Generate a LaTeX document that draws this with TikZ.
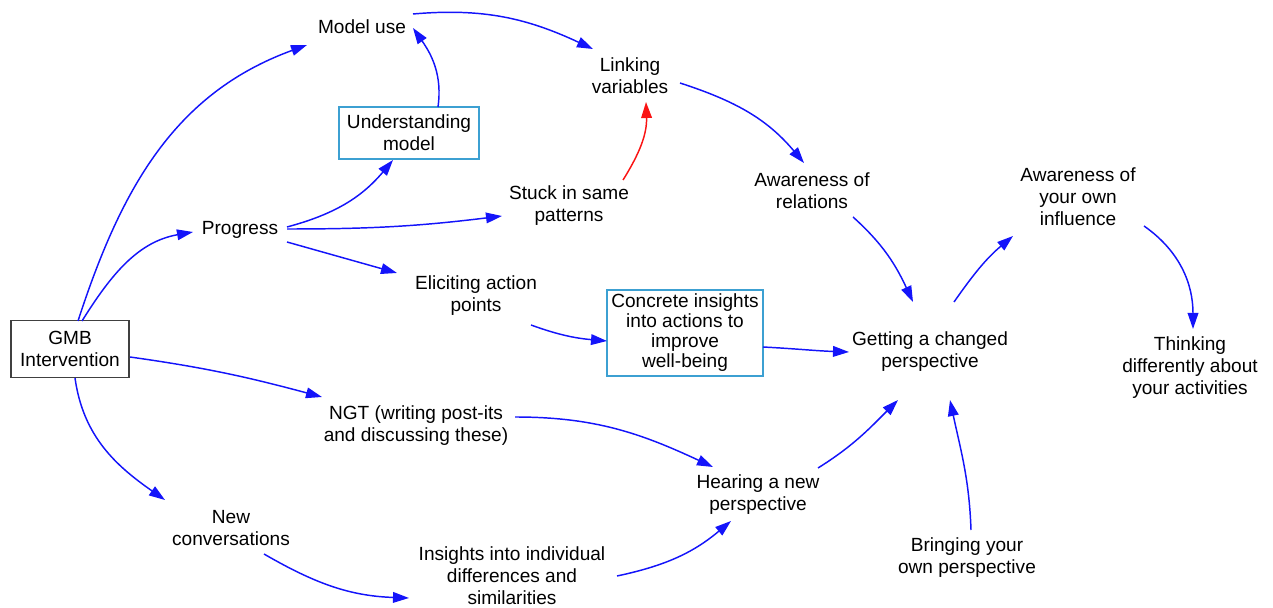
\documentclass[tikz,border=0pt]{standalone}
\usepackage{fontspec}
\setmainfont{Liberation Sans}
\usetikzlibrary{arrows.meta}
\definecolor{arrblue}{RGB}{20,20,250}
\definecolor{arrred}{RGB}{250,20,20}
\definecolor{boxblue}{RGB}{60,160,210}
\begin{document}
\begin{tikzpicture}[x=0.75pt,y=0.75pt,
  lbl/.style={align=center,font=\fontsize{14.3}{16.5}\selectfont,inner sep=0pt},
  bluebox/.style={lbl,draw=boxblue,line width=0.9pt},
  graybox/.style={lbl,draw=black!75,line width=1.1pt},
  arr/.style={draw=arrblue,line width=1.1pt,-{Triangle[length=12pt,width=8pt]}},
  redarr/.style={arr,draw=arrred,-{Triangle[length=12pt,width=8pt,fill=arrred]}}]
\useasboundingbox (0,0) rectangle (1273,607);
% nodes
\node[lbl] (mu) at (362,580) {Model use};
\node[lbl] (lv) at (630,531) {Linking\\variables};
\node[bluebox,minimum width=105pt,minimum height=39pt] (um) at (409,474) {Understanding\\model};
\node[lbl] (st) at (569,401) {Stuck in same\\patterns};
\node[lbl] (pr) at (240,377) {Progress};
\node[lbl] (ar) at (812,416) {Awareness of\\relations};
\node[lbl] (ao) at (1078,410) {Awareness of\\your own\\influence};
\node[lbl] (ea) at (476,311) {Eliciting action\\points};
\node[bluebox,minimum width=117pt,minimum height=64.5pt,font=\fontsize{14.3}{15}\selectfont] (ci) at (685,274) {Concrete insights\\into actions to\\improve\\well-being};
\node[lbl] (gc) at (930,255) {Getting a changed\\perspective};
\node[lbl] (td) at (1190,239) {Thinking\\differently about\\your activities};
\node[graybox,minimum width=88.5pt,minimum height=42.75pt] (gmb) at (70,258) {GMB\\Intervention};
\node[lbl] (ngt) at (416,181) {NGT (writing post-its\\and discussing these)};
\node[lbl] (hn) at (758,112) {Hearing a new\\perspective};
\node[lbl] (nc) at (231,79) {New\\conversations};
\node[lbl] (ii) at (512,31) {Insights into individual\\differences and\\similarities};
\node[lbl] (bp) at (967,49) {Bringing your\\own perspective};
% connectors
\draw[arr] ([shift={(8,28)}]gmb.center) to[out=72,in=200] ([shift={(-55,-18)}]mu.center);
\draw[arr] ([shift={(12,28)}]gmb.center) to[out=58,in=190] ([shift={(-47,-2)}]pr.center);
\draw[arr] ([shift={(60,-8)}]gmb.center) to[out=-8,in=165] ([shift={(-94,29)}]ngt.center);
\draw[arr] ([shift={(5,-29)}]gmb.center) to[out=-82,in=145] ([shift={(-66,28)}]nc.center);
\draw[arr] ([shift={(47,3)}]pr.center) to[out=15,in=230] ([shift={(-16,-27)}]um.center);
\draw[arr] ([shift={(47,1)}]pr.center) to[out=0,in=187] ([shift={(-67,-10)}]st.center);
\draw[arr] ([shift={(47,-12)}]pr.center) -- ([shift={(-79,23)}]ea.center);
\draw[arr] ([shift={(29,26)}]um.center) to[out=82,in=-55] ([shift={(51,-1)}]mu.center);
\draw[arr] ([shift={(51,13)}]mu.center) to[out=5,in=155] ([shift={(-37,27)}]lv.center);
\draw[redarr] ([shift={(54,26)}]st.center) to[out=58,in=-88] ([shift={(16,-26)}]lv.center);
\draw[arr] ([shift={(50,-7)}]lv.center) to[out=-18,in=130] ([shift={(-8,28)}]ar.center);
\draw[arr] ([shift={(41,-26)}]ar.center) to[out=-42,in=115] ([shift={(-17,50)}]gc.center);
\draw[arr] ([shift={(55,-29)}]ea.center) to[out=-20,in=175] ([shift={(-78,-8)}]ci.center);
\draw[arr] ([shift={(78,-14)}]ci.center) to[out=-3,in=178] ([shift={(-81,0)}]gc.center);
\draw[arr] ([shift={(24,50)}]gc.center) to[out=55,in=220] ([shift={(-65,-39)}]ao.center);
\draw[arr] ([shift={(66,-29)}]ao.center) to[out=-35,in=90] ([shift={(3,39)}]td.center);
\draw[arr] ([shift={(99,9)}]ngt.center) to[out=0,in=155] ([shift={(-45,28)}]hn.center);
\draw[arr] ([shift={(33,-26)}]nc.center) to[out=-30,in=178] ([shift={(-103,-22)}]ii.center);
\draw[arr] ([shift={(105,0)}]ii.center) to[out=12,in=220] ([shift={(-27,-26)}]hn.center);
\draw[arr] ([shift={(60,27)}]hn.center) to[out=32,in=225] ([shift={(-32,-48)}]gc.center);
\draw[arr] ([shift={(4,28)}]bp.center) to[out=92,in=-78] ([shift={(20,-48)}]gc.center);
\end{tikzpicture}
\end{document}
